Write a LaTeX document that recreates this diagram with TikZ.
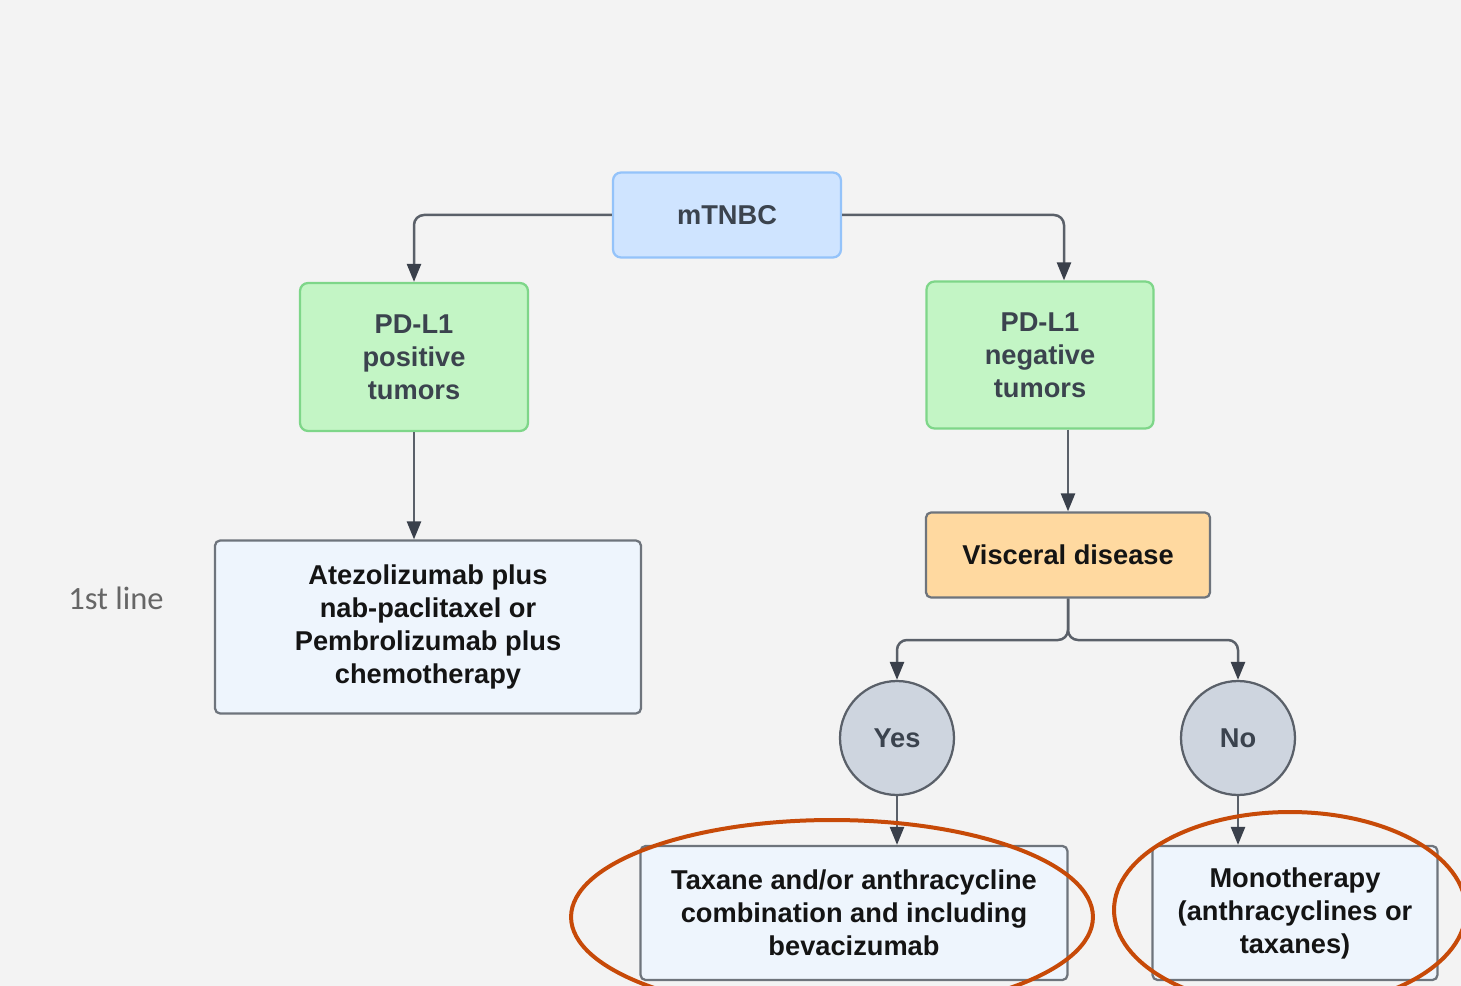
\documentclass[tikz,border=0pt]{standalone}
\usepackage{fontspec}
\setmainfont{Liberation Sans}
\newfontfamily\carlito{Carlito}
\usetikzlibrary{arrows.meta}

\definecolor{bgGray}{HTML}{F3F3F3}
\definecolor{blueFill}{HTML}{CFE4FF}
\definecolor{blueLine}{HTML}{94C3FA}
\definecolor{greenFill}{HTML}{C3F5C5}
\definecolor{greenLine}{HTML}{7ED689}
\definecolor{paleFill}{HTML}{EEF5FD}
\definecolor{boxLine}{HTML}{6E747C}
\definecolor{orangeFill}{HTML}{FFD9A0}
\definecolor{circFill}{HTML}{CED5DF}
\definecolor{lineGray}{HTML}{5A6069}
\definecolor{tipGray}{HTML}{3A404B}
\definecolor{textGray}{HTML}{3B434E}
\definecolor{markRed}{HTML}{C74A08}

\begin{document}
\begin{tikzpicture}[x=0.02cm, y=-0.02cm,
  every node/.style = {font=\bfseries\fontsize{15.5}{18.8}\selectfont, align=center, inner sep=0pt},
  topbox/.style = {draw=blueLine, fill=blueFill, line width=0.045cm, rounded corners=0.16cm, text=textGray},
  tumorbox/.style = {draw=greenLine, fill=greenFill, line width=0.045cm, rounded corners=0.16cm, text=textGray},
  drugbox/.style = {draw=boxLine, fill=paleFill, line width=0.045cm, rounded corners=0.1cm, text=black!92},
  answer/.style = {circle, draw=lineGray, fill=circFill, line width=0.045cm, minimum size=2.28cm, text=textGray},
  flow/.style = {draw=lineGray, line width=0.05cm, rounded corners=0.2cm,
    -{Triangle[width=0.28cm, length=0.36cm, color=tipGray]}},
  ring/.style = {draw=markRed, line width=0.08cm}]

\useasboundingbox (0,0) rectangle (1461,986);
\fill[bgGray] (0,0) rectangle (1461,986);

% boxes
\node[topbox, minimum width=4.56cm, minimum height=1.7cm] (mtnbc) at (727,215) {mTNBC};
\node[tumorbox, minimum width=4.56cm, minimum height=2.96cm] (pos) at (414,357) {PD-L1\\positive\\tumors};
\node[tumorbox, minimum width=4.54cm, minimum height=2.94cm] (neg) at (1040,355) {PD-L1\\negative\\tumors};
\node[drugbox, minimum width=8.52cm, minimum height=3.46cm] (atezo) at (428,627)
  {Atezolizumab plus\\nab-paclitaxel or\\Pembrolizumab plus\\chemotherapy};
\node[font=\carlito\fontsize{18.5}{20}\selectfont, text=black!60] (line) at (116,598) {1st line};
\node[drugbox, fill=orangeFill, minimum width=5.68cm, minimum height=1.7cm] (visc) at (1068,555) {Visceral disease};
\node[answer] (yes) at (897,738) {Yes};
\node[answer] (no) at (1238,738) {No};
\node[drugbox, minimum width=8.54cm, minimum height=2.68cm] (taxane) at (854,913)
  {Taxane and/or anthracycline\\combination and including\\bevacizumab};
\node[drugbox, minimum width=5.7cm, minimum height=2.68cm] (mono) at (1295,913)
  {Monotherapy\\(anthracyclines or\\taxanes)};
\coordinate (split) at (1068,640);

% connectors
\draw[flow] (mtnbc.west) -| (pos.north);
\draw[flow] (mtnbc.east) -| ([xshift=0.48cm]neg.north);
\draw[flow] (pos.south) -- (pos.south |- atezo.north);
\draw[flow] (visc.north |- neg.south) -- (visc.north);
\draw[flow] (visc.south) -- (split) -| (yes.north);
\draw[flow] (visc.south) -- (split) -| (no.north);
\draw[flow] (yes.south) -- (yes.south |- taxane.north);
\draw[flow] (no.south) -- (no.south |- mono.north);

% highlight rings
\draw[ring] (832,917) ellipse [x radius=5.22cm, y radius=1.94cm];
\draw[ring] (1290,910) ellipse [x radius=3.52cm, y radius=1.96cm];
\end{tikzpicture}
\end{document}
